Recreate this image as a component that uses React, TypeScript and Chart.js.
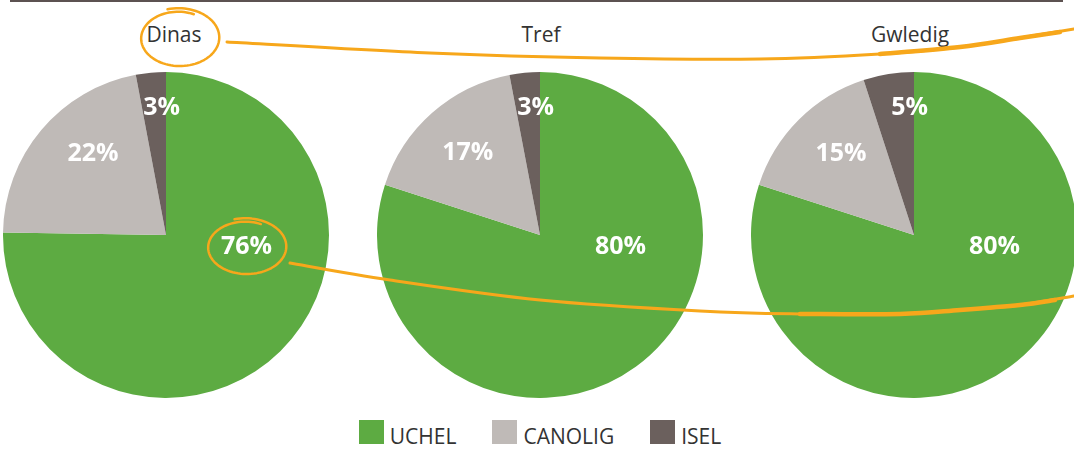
import React, { useEffect, useRef } from "react";
import { Chart, registerables } from "chart.js";

Chart.register(...registerables);

// ---- data ----
const regions = ["Dinas", "Tref", "Gwledig"];
const levels = ["UCHEL", "CANOLIG", "ISEL"];
const dinasValues = [76, 22, 3];
const trefValues = [80, 17, 3];
const gwledigValues = [80, 15, 5];
const levelColors = ["#5dab42", "#bfbab7", "#6b605d"];

// ---- layout ----
const W = 1074;
const H = 461;
const PIE_SIZE = 326;
const PIE_CY = 235;
const pieCentersX = [166, 540, 914];
const titleCentersX = [174, 541, 910];
const FONT = "'Open Sans', 'Noto Sans', sans-serif";
const ORANGE = "#f7a71b";

const pctLabels = {
  id: "pctLabels",
  afterDatasetsDraw(chart: any) {
    const ctx = chart.ctx;
    const meta = chart.getDatasetMeta(0);
    const data = chart.data.datasets[0].data as number[];
    const max = Math.max(...data);
    ctx.save();
    ctx.fillStyle = "#ffffff";
    ctx.font = `bold 25px ${FONT}`;
    ctx.textAlign = "center";
    ctx.textBaseline = "middle";
    meta.data.forEach((arc: any, i: number) => {
      const p = arc.getProps(["x", "y", "startAngle", "endAngle", "outerRadius"], true);
      let ang: number;
      let r: number;
      if (data[i] === max) {
        ang = 0.15;
        r = 0.5 * p.outerRadius;
      } else if (data[i] < 10) {
        ang = p.endAngle - 0.035;
        r = 0.78 * p.outerRadius;
      } else {
        // best-fit style placement in the upper-left part of the slice
        ang = Math.min(Math.max((p.startAngle + p.endAngle) / 2, 3.98), 4.0);
        r = 0.67 * p.outerRadius;
      }
      ctx.fillText(`${data[i]}%`, p.x + Math.cos(ang) * r, p.y + Math.sin(ang) * r);
    });
    ctx.restore();
  },
};

function Pie({ values, cx }: { values: number[]; cx: number }) {
  const ref = useRef<HTMLCanvasElement | null>(null);
  useEffect(() => {
    if (!ref.current) return;
    const chart = new Chart(ref.current, {
      type: "pie",
      data: {
        labels: levels,
        datasets: [
          {
            data: values,
            backgroundColor: levelColors,
            borderWidth: 0,
          },
        ],
      },
      options: {
        responsive: false,
        maintainAspectRatio: false,
        animation: false,
        layout: { padding: 0 },
        plugins: {
          legend: { display: false },
          tooltip: { enabled: false },
        },
      },
      plugins: [pctLabels],
    });
    return () => chart.destroy();
  }, [values]);
  return (
    <canvas
      ref={ref}
      width={PIE_SIZE}
      height={PIE_SIZE}
      style={{
        position: "absolute",
        left: cx - PIE_SIZE / 2,
        top: PIE_CY - PIE_SIZE / 2,
        width: PIE_SIZE,
        height: PIE_SIZE,
      }}
    />
  );
}

type Pt = [number, number];

function smooth(ctx: CanvasRenderingContext2D, pts: Pt[]) {
  ctx.moveTo(pts[0][0], pts[0][1]);
  for (let i = 0; i < pts.length - 1; i++) {
    const p0 = pts[i - 1] || pts[i];
    const p1 = pts[i];
    const p2 = pts[i + 1];
    const p3 = pts[i + 2] || p2;
    ctx.bezierCurveTo(
      p1[0] + (p2[0] - p0[0]) / 6,
      p1[1] + (p2[1] - p0[1]) / 6,
      p2[0] - (p3[0] - p1[0]) / 6,
      p2[1] - (p3[1] - p1[1]) / 6,
      p2[0],
      p2[1]
    );
  }
}

function loop(
  ctx: CanvasRenderingContext2D,
  cx: number,
  cy: number,
  rx: number,
  ry: number,
  t0: number,
  span: number,
  grow: number
) {
  const n = 100;
  ctx.beginPath();
  for (let k = 0; k <= n; k++) {
    const f = k / n;
    const t = t0 + span * f;
    const s = 1 + grow * (0.5 - f);
    const x = cx + Math.cos(t) * rx * s;
    const y = cy + Math.sin(t) * ry * s;
    if (k === 0) ctx.moveTo(x, y);
    else ctx.lineTo(x, y);
  }
  ctx.stroke();
}

function Overlay() {
  const ref = useRef<HTMLCanvasElement | null>(null);
  useEffect(() => {
    const c = ref.current;
    if (!c) return;
    const ctx = c.getContext("2d");
    if (!ctx) return;
    ctx.clearRect(0, 0, W, H);
    ctx.strokeStyle = ORANGE;
    ctx.lineCap = "round";
    ctx.lineJoin = "round";
    ctx.lineWidth = 2.5;
    // loop around "Dinas" (starts outside at the top, spirals slightly inward)
    loop(ctx, 179, 38, 39, 28, -1.85, Math.PI * 2 + 0.7, 0.14);
    // loop around "76%"
    loop(ctx, 246, 247, 39, 27, -1.85, Math.PI * 2 + 0.7, 0.14);

    // upper connecting line
    ctx.beginPath();
    smooth(ctx, [
      [227, 42],
      [430, 53],
      [600, 58],
      [760, 59],
      [880, 54],
      [960, 47],
      [1020, 38],
      [1074, 29],
    ]);
    ctx.lineWidth = 3;
    ctx.stroke();
    ctx.beginPath();
    smooth(ctx, [
      [880, 54],
      [960, 47],
      [1020, 38],
      [1060, 32],
    ]);
    ctx.lineWidth = 4.5;
    ctx.stroke();

    // lower connecting line
    ctx.beginPath();
    smooth(ctx, [
      [290, 263],
      [390, 280],
      [540, 300],
      [700, 311],
      [800, 314],
      [900, 314],
      [960, 310],
      [1020, 305],
      [1074, 296],
    ]);
    ctx.lineWidth = 3;
    ctx.stroke();
    ctx.beginPath();
    smooth(ctx, [
      [800, 314],
      [900, 314],
      [960, 310],
      [1020, 305],
      [1055, 300],
    ]);
    ctx.lineWidth = 4.5;
    ctx.stroke();
  }, []);
  return (
    <canvas
      ref={ref}
      width={W}
      height={H}
      style={{ position: "absolute", left: 0, top: 0, width: W, height: H, pointerEvents: "none" }}
    />
  );
}

export default function App() {
  const series = [dinasValues, trefValues, gwledigValues];
  return (
    <div
      style={{
        position: "absolute",
        left: 0,
        top: 0,
        width: W,
        height: H,
        overflow: "hidden",
        background: "#ffffff",
        fontFamily: FONT,
      }}
    >
      <div
        style={{
          position: "absolute",
          left: 10,
          top: 0,
          width: 1053,
          height: 2,
          background: "#5c5251",
        }}
      />
      {regions.map((name, i) => (
        <Pie key={name} values={series[i]} cx={pieCentersX[i]} />
      ))}
      {regions.map((name, i) => (
        <div
          key={name + "-t"}
          style={{
            position: "absolute",
            left: titleCentersX[i] - 100,
            top: 21,
            width: 200,
            height: 26,
            lineHeight: "26px",
            textAlign: "center",
            fontSize: 21,
            color: "#333333",
          }}
        >
          {name}
        </div>
      ))}
      <div
        style={{
          position: "absolute",
          left: pieCentersX[1] - 300,
          width: 600,
          top: 420,
          height: 24,
          display: "flex",
          justifyContent: "center",
          alignItems: "flex-end",
        }}
      >
        {levels.map((lv, i) => (
          <div
            key={lv}
            style={{
              display: "flex",
              alignItems: "flex-end",
              marginRight: i < levels.length - 1 ? 36 : 0,
            }}
          >
            <div style={{ width: 25, height: 24, background: levelColors[i], marginRight: 6 }} />
            <div style={{ fontSize: 21, lineHeight: "24px", height: 24, color: "#333333", position: "relative", top: 4 }}>
              {lv}
            </div>
          </div>
        ))}
      </div>
      <Overlay />
    </div>
  );
}
